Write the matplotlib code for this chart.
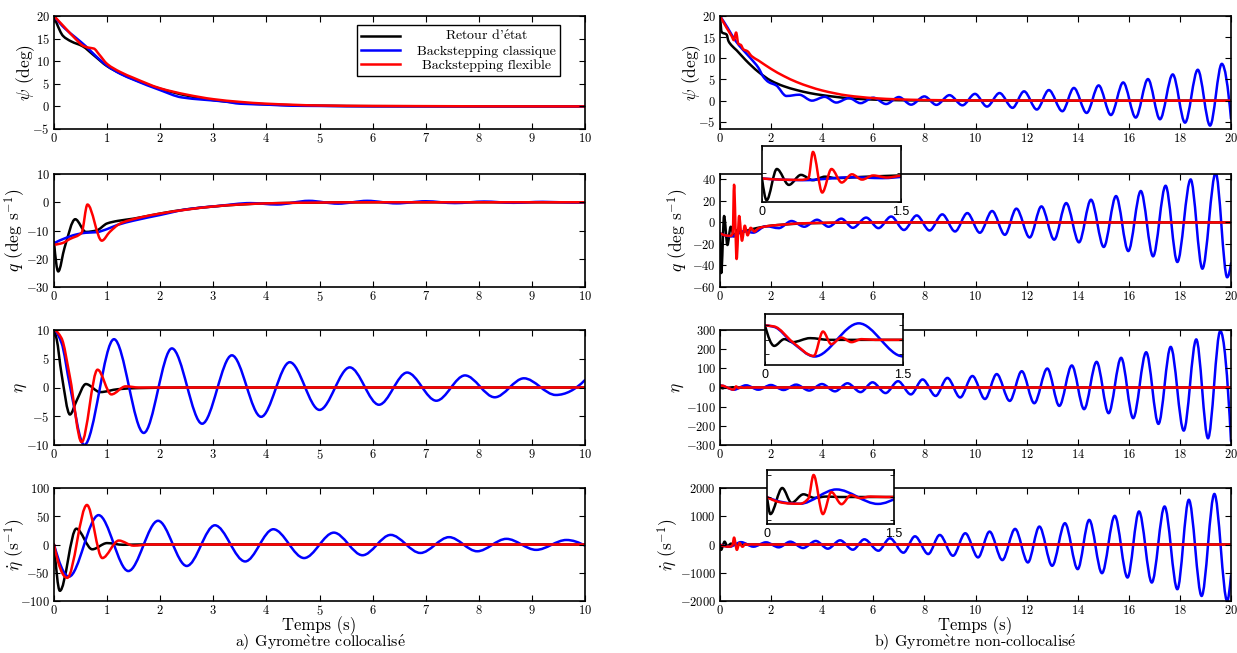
import numpy as np
import matplotlib
matplotlib.use("Agg")
import matplotlib.pyplot as plt
from matplotlib.path import Path
from matplotlib.patches import PathPatch
from matplotlib.lines import Line2D

plt.rcParams['font.family'] = ['cmr10', 'DejaVu Serif']
plt.rcParams['mathtext.fontset'] = 'cm'
plt.rcParams['axes.formatter.use_mathtext'] = True
plt.rcParams['axes.unicode_minus'] = True

# ---- data: (time [s], value) at extrema / key points ----
# a) collocated gyro, t in [0, 10]
psi_a_black = [(0, 20), (0.05, 18.4), (0.17, 15.6), (0.32, 14.4), (0.54, 13.3), (0.75, 11.3),
               (1.0, 8.9), (1.25, 7.3), (1.5, 6.0), (2.0, 3.9), (2.5, 2.4), (3.0, 1.4),
               (3.5, 0.8), (4.0, 0.45), (5.0, 0.15), (6.0, 0.05), (10, 0)]
psi_a_blue = [(0, 20), (0.2, 17.3), (0.4, 15.3), (0.6, 13.3), (0.8, 11.0), (1.0, 9.0),
              (1.25, 7.2), (1.5, 5.9), (2.0, 3.6), (2.4, 2.0), (2.8, 1.5), (3.2, 1.1),
              (3.5, 0.6), (4.0, 0.4), (4.5, 0.15), (5.0, 0.1), (6.0, 0.02), (10, 0)]
psi_a_red = [(0, 20), (0.2, 17.5), (0.4, 15.0), (0.55, 13.4), (0.65, 13.0), (0.75, 12.8),
             (0.85, 11.5), (1.0, 9.4), (1.25, 7.6), (1.5, 6.3), (2.0, 4.0), (2.5, 2.6),
             (3.0, 1.6), (3.5, 1.0), (4.0, 0.6), (5.0, 0.2), (6.0, 0.1), (10, 0)]

q_a_black = [(0, -14), (0.08, -24.5), (0.2, -16), (0.4, -6), (0.6, -10.5), (0.8, -10),
             (1.0, -7.5), (1.2, -6.6), (1.5, -5.8), (2.0, -4), (2.5, -2.5), (3.0, -1.5),
             (3.5, -0.8), (4.0, -0.4), (5.0, -0.1), (6.0, 0), (10, 0)]
q_a_blue = [(0, -14.5), (0.2, -12.8), (0.4, -11.5), (0.6, -10.8), (0.8, -10.6), (1.0, -9.5),
            (1.2, -8), (1.5, -6.5), (2.0, -4.5), (2.5, -2.5), (3.1, -1.3), (3.7, -0.3),
            (4.2, -0.8), (4.8, 0.5), (5.35, -0.5), (5.9, 0.5), (6.45, -0.4), (7.0, 0.35),
            (7.55, -0.3), (8.1, 0.25), (8.65, -0.2), (9.2, 0.15), (9.75, -0.1), (10, 0)]
q_a_red = [(0, -15), (0.15, -14.5), (0.3, -13), (0.52, -10.8), (0.63, -0.8), (0.9, -13.6),
           (1.05, -10.5), (1.25, -7.5), (1.6, -5.5), (2.0, -4), (2.5, -2.6), (3.0, -1.5),
           (3.5, -0.8), (4.0, -0.4), (5.0, -0.1), (6.0, 0), (10, 0)]

eta_a_black = [(0, 10), (0.05, 8.4), (0.14, 2.5), (0.3, -4.7), (0.43, -2.2), (0.6, 0.6),
               (0.87, -0.8), (1.2, -0.3), (1.6, -0.1), (2.5, 0), (10, 0)]
eta_a_blue = [(0, 10), (0.14, 7.8), (0.3, 0.3), (0.57, -10), (1.13, 8.4), (1.69, -7.9),
              (2.22, 6.8), (2.79, -6.3), (3.35, 5.6), (3.9, -5.1), (4.44, 4.4), (5.0, -3.9),
              (5.57, 3.5), (6.12, -3.0), (6.65, 2.6), (7.2, -2.3), (7.74, 2.1), (8.3, -1.7),
              (8.85, 1.6), (9.45, -1.3), (10, 1.3)]
eta_a_red = [(0, 10), (0.14, 8.6), (0.3, 1.8), (0.52, -9.5), (0.82, 3.1), (1.08, -1.2),
             (1.35, 0.2), (1.6, 0), (10, 0)]

etad_a_black = [(0, 0), (0.11, -82), (0.42, 28), (0.72, -8.5), (1.0, 2.5), (1.3, -0.5),
                (1.6, 0), (10, 0)]
etad_a_blue = [(0, 0), (0.28, -57), (0.84, 52), (1.4, -47), (1.96, 42), (2.5, -38),
               (3.03, 34), (3.6, -30), (4.13, 27), (4.71, -24), (5.27, 21), (5.81, -19),
               (6.34, 17), (6.9, -15), (7.44, 13), (7.97, -12), (8.52, 10), (9.08, -9.5),
               (9.65, 8), (10, -2)]
etad_a_red = [(0, 0), (0.25, -59), (0.62, 70), (0.91, -24), (1.22, 7), (1.5, -2),
              (1.8, 0), (10, 0)]

# b) non-collocated gyro, t in [0, 20]
psi_b_black = [(0, 20), (0.065, 16.2), (0.26, 15.6), (0.33, 14.1), (0.46, 13.0), (0.65, 11.9),
               (1.0, 9.6), (1.5, 6.8), (2.0, 4.7), (2.5, 3.4), (3.0, 2.5), (3.5, 1.8),
               (4.0, 1.3), (5.0, 0.6), (6.0, 0.25), (7.0, 0.1), (8.0, 0.05), (20, 0)]
psi_b_blue = [(0, 20), (0.3, 17.2), (0.6, 14.2), (0.9, 12.0), (1.2, 10.0), (1.5, 7.8),
              (1.7, 5.6), (1.9, 4.4), (2.2, 3.6), (2.6, 1.1), (3.1, 1.4), (3.6, 0.0),
              (4.1, 0.9), (4.55, -0.45), (5.05, 0.6), (5.5, -0.6), (6.0, 0.7), (6.5, -0.8),
              (7.0, 0.85), (7.48, -0.95), (8.0, 1.0), (8.47, -1.0), (8.98, 1.3), (9.49, -1.1),
              (9.98, 1.6), (10.45, -1.4), (10.94, 1.8), (11.45, -1.7), (11.9, 2.2),
              (12.4, -2.1), (12.87, 2.5), (13.4, -2.5), (13.85, 3.0), (14.35, -2.9),
              (14.82, 3.6), (15.3, -3.4), (15.78, 4.3), (16.27, -4.0), (16.75, 5.1),
              (17.22, -4.4), (17.72, 6.2), (18.2, -5.2), (18.7, 7.3), (19.18, -5.9),
              (19.64, 8.7), (20, -4.3)]
psi_b_red = [(0, 20), (0.26, 17.2), (0.46, 15.2), (0.54, 14.3), (0.63, 16.1), (0.72, 13.4),
             (0.81, 13.2), (0.92, 12.1), (1.07, 11.7), (1.24, 10.5), (1.5, 9.5), (2.0, 7.5),
             (2.5, 5.8), (3.0, 4.4), (3.5, 3.3), (4.0, 2.4), (5.0, 1.2), (6.0, 0.6),
             (7.0, 0.3), (8.0, 0.15), (10, 0.05), (20, 0)]

q_b_black = [(0, -10), (0.05, -47), (0.16, 6), (0.29, -21), (0.42, -4), (0.55, -13),
             (0.68, -7), (0.8, -9.5), (1.0, -8), (1.3, -6), (1.6, -4.5), (2.0, -3),
             (2.5, -2), (3.0, -1.2), (4.0, -0.5), (5.0, -0.2), (6.0, 0), (20, 0)]
q_b_blue = [(0, -10), (0.2, -12), (0.45, -13), (0.75, -10), (0.95, -8), (1.3, -9.5),
            (1.8, -3.5), (2.3, -5.3), (2.8, 1.3), (3.3, -4), (3.8, 2.5), (4.25, -4),
            (4.75, 3.5), (5.2, -5), (5.72, 4.5), (6.2, -5.3), (6.7, 5.5), (7.2, -7),
            (7.7, 6.5), (8.2, -7.5), (8.7, 7.5), (9.2, -8.4), (9.68, 8.7), (10.17, -9.6),
            (10.65, 10.6), (11.15, -11.5), (11.6, 12.8), (12.12, -14), (12.58, 14.9),
            (13.08, -16), (13.55, 18), (14.05, -18.5), (14.52, 21.1), (15.02, -22.8),
            (15.5, 24.5), (15.98, -26.6), (16.47, 29.2), (16.95, -31.5), (17.44, 34.1),
            (17.9, -36.8), (18.42, 40), (18.88, -43), (19.4, 46), (19.85, -51), (20, -38)]
q_b_red = [(0, -10), (0.2, -12), (0.42, -12.5), (0.5, -10), (0.55, 35), (0.65, -34),
           (0.75, 6), (0.86, -17), (0.97, -3), (1.08, -12), (1.2, -5), (1.35, -8.5),
           (1.5, -5.5), (2.0, -3), (2.5, -2), (3.0, -1), (4.0, -0.4), (5.0, 0), (20, 0)]

eta_b_black = [(0, 10), (0.1, -4.2), (0.21, 0.5), (0.3, -1.6), (0.49, 1.2), (0.7, 0), (20, 0)]
eta_b_blue = [(0, 10), (0.1, 9), (0.3, -2), (0.54, -11.6), (1.02, 11.5), (1.5, -11.5),
              (1.99, 13), (2.49, -13), (2.98, 15), (3.49, -16), (3.99, 18), (4.5, -20),
              (4.99, 22), (5.5, -24), (5.97, 27), (6.48, -29), (6.97, 33), (7.47, -36),
              (7.93, 42), (8.44, -44), (8.9, 50), (9.4, -52), (9.88, 60), (10.37, -60),
              (10.83, 70), (11.34, -70), (11.81, 85), (12.3, -82), (12.81, 99), (13.28, -96),
              (13.77, 115), (14.25, -113), (14.74, 134), (15.21, -134), (15.7, 155),
              (16.17, -160), (16.68, 184), (17.16, -190), (17.64, 212), (18.15, -225),
              (18.64, 251), (19.1, -265), (19.58, 295), (20, -280)]
eta_b_red = [(0, 10), (0.1, 9.3), (0.3, -1.5), (0.53, -11.2), (0.63, 5.8), (0.72, -3),
             (0.83, 1.6), (0.94, -1.6), (1.05, 0.5), (1.2, 0), (20, 0)]

etad_b_black = [(0, 0), (0.04, -190), (0.18, 100), (0.29, -65), (0.43, 30), (0.56, -10),
                (0.7, 5), (0.85, 0), (20, 0)]
etad_b_blue = [(0, 0), (0.39, -75), (0.82, 84), (1.31, -77), (1.8, 77), (2.3, -100),
               (2.75, 100), (3.25, -125), (3.75, 125), (4.22, -148), (4.7, 148),
               (5.2, -184), (5.65, 184), (6.2, -220), (6.65, 220), (7.18, -290), (7.63, 290),
               (8.15, -338), (8.6, 338), (9.12, -398), (9.6, 398), (10.1, -457),
               (10.55, 457), (11.05, -552), (11.55, 552), (12.05, -635), (12.5, 635),
               (13.0, -754), (13.5, 754), (14.0, -872), (14.45, 872), (14.95, -1015),
               (15.45, 1015), (15.95, -1170), (16.4, 1170), (16.9, -1347), (17.4, 1347),
               (17.9, -1584), (18.35, 1584), (18.85, -1822), (19.35, 1790), (19.85, -2000),
               (20, -1100)]
etad_b_red = [(0, 0), (0.39, -75), (0.49, -15), (0.55, 245), (0.66, -190), (0.76, 55),
              (0.88, -80), (0.99, 20), (1.1, -12), (1.22, 5), (1.4, 0), (20, 0)]

legend_labels = [r"Retour d'$\mathrm{\acute{e}}$tat", "Backstepping classique",
                 "Backstepping flexible"]
colors = ['black', 'blue', 'red']
ylabels = [r'$\psi$ (deg)', r'$q$ (deg s$^{-1}$)', r'$\eta$', r'$\dot{\eta}$ (s$^{-1}$)']
captions = [r'a) Gyrom$\mathrm{\grave{e}}$tre collocalis$\mathrm{\acute{e}}$',
            r'b) Gyrom$\mathrm{\grave{e}}$tre non-collocalis$\mathrm{\acute{e}}$']


def smooth_path(points):
    # shape preserving cubic (pchip tangents) handed to matplotlib as Bezier segments
    t = np.array([p[0] for p in points], float)
    v = np.array([p[1] for p in points], float)
    h = np.diff(t)
    d = np.diff(v) / h
    n = len(t)
    m = np.zeros(n)
    for i in range(1, n - 1):
        if d[i - 1] * d[i] > 0:
            w1 = 2 * h[i] + h[i - 1]
            w2 = h[i] + 2 * h[i - 1]
            m[i] = (w1 + w2) / (w1 / d[i - 1] + w2 / d[i])

    def edge(h0, h1, d0, d1):
        e = ((2 * h0 + h1) * d0 - h0 * d1) / (h0 + h1)
        if np.sign(e) != np.sign(d0):
            return 0.0
        if np.sign(d0) != np.sign(d1) and abs(e) > abs(3 * d0):
            return 3 * d0
        return e

    if n > 2:
        m[0] = edge(h[0], h[1], d[0], d[1])
        m[-1] = edge(h[-1], h[-2], d[-1], d[-2])
    else:
        m[:] = d[0]
    verts = [(t[0], v[0])]
    codes = [Path.MOVETO]
    for i in range(n - 1):
        verts += [(t[i] + h[i] / 3, v[i] + m[i] * h[i] / 3),
                  (t[i + 1] - h[i] / 3, v[i + 1] - m[i + 1] * h[i] / 3),
                  (t[i + 1], v[i + 1])]
        codes += [Path.CURVE4] * 3
    return Path(verts, codes)


def draw(ax, series, lw=1.8):
    for pts, c in zip(series, colors):
        ax.add_patch(PathPatch(smooth_path(pts), fill=False, edgecolor=c, lw=lw,
                               capstyle='round', joinstyle='round'))


def style(ax):
    ax.tick_params(direction='in', top=True, right=True, length=4, width=0.8,
                   labelsize=9, pad=3)
    ax.tick_params(axis='x', pad=2)
    for s in ax.spines.values():
        s.set_linewidth(1.2)


W, H = 1237, 653
fig = plt.figure(figsize=(W / 100, H / 100), dpi=100)

rows = [(16, 129), (174, 287), (330, 445), (488, 601)]
cols = [(54, 585), (720, 1231)]
# x pixel of the right edge of each rotated y label
label_edges = [[37, 27, 29, 27], [703, 690, 686, 680]]

data_a = [(psi_a_black, psi_a_blue, psi_a_red), (q_a_black, q_a_blue, q_a_red),
          (eta_a_black, eta_a_blue, eta_a_red), (etad_a_black, etad_a_blue, etad_a_red)]
data_b = [(psi_b_black, psi_b_blue, psi_b_red), (q_b_black, q_b_blue, q_b_red),
          (eta_b_black, eta_b_blue, eta_b_red), (etad_b_black, etad_b_blue, etad_b_red)]

ylims_a = [(-5, 20), (-30, 10), (-10, 10), (-100, 100)]
yticks_a = [np.arange(-5, 21, 5), np.arange(-30, 11, 10), np.arange(-10, 11, 5),
            np.arange(-100, 101, 50)]
ylims_b = [(-6.7, 20), (-60, 45), (-300, 300), (-2000, 2000)]
yticks_b = [np.arange(-5, 21, 5), np.arange(-60, 41, 20), np.arange(-300, 301, 100),
            np.arange(-2000, 2001, 1000)]

leg = None
for ci, (data, ylims, yticks, tmax, xstep) in enumerate(
        [(data_a, ylims_a, yticks_a, 10, 1), (data_b, ylims_b, yticks_b, 20, 2)]):
    x0, x1 = cols[ci]
    for ri, (top, bot) in enumerate(rows):
        ax = fig.add_axes([x0 / W, 1 - bot / H, (x1 - x0) / W, (bot - top) / H])
        draw(ax, data[ri])
        ax.set_xlim(0, tmax)
        ax.set_ylim(*ylims[ri])
        ax.set_xticks(np.arange(0, tmax + 0.1, xstep))
        ax.set_yticks(yticks[ri])
        ax.set_ylabel(ylabels[ri], fontsize=12.5)
        ax.yaxis.set_label_coords((label_edges[ci][ri] - x0) / (x1 - x0), 0.5)
        style(ax)
        if ri == 3:
            ax.set_xlabel('Temps (s)', fontsize=12)
            ax.xaxis.set_label_coords(0.5, (bot - 616.5) / (bot - top))
        if ci == 0 and ri == 0:
            handles = [Line2D([], [], color=c, lw=1.8) for c in colors]
            leg = ax.legend(handles, legend_labels, loc='upper right',
                            bbox_to_anchor=(0.953, 0.92), borderaxespad=0,
                            fontsize=10, fancybox=False, framealpha=1,
                            edgecolor='black', handlelength=2.8, labelspacing=0.1,
                            borderpad=0.3, handletextpad=1.2)
            leg.get_frame().set_linewidth(1.0)

# zoomed insets over the first 1.5 s of the non-collocated case
insets = [(1, (762, 901, 146, 202), (-50, 45)),
          (2, (765, 903, 314, 365), (-17.5, 18)),
          (3, (767, 894, 470, 524), (-300, 300))]
for ri, (ix0, ix1, itop, ibot), ylim in insets:
    axi = fig.add_axes([ix0 / W, 1 - ibot / H, (ix1 - ix0) / W, (ibot - itop) / H], zorder=5)
    draw(axi, data_b[ri])
    axi.set_xlim(0, 1.5)
    axi.set_ylim(*ylim)
    axi.set_xticks([0, 1.5])
    axi.set_xticklabels(['0', '1.5'], fontfamily='Liberation Sans', fontsize=9)
    axi.tick_params(direction='in', top=True, right=True, length=3, width=0.6,
                    labelleft=False, pad=3)
    for s in axi.spines.values():
        s.set_linewidth(1.2)

fig.text(320 / W, 1 - 652.5 / H, captions[0], ha='center', va='bottom', fontsize=11.5)
fig.text(975 / W, 1 - 652.5 / H, captions[1], ha='center', va='bottom', fontsize=11.5)

# centre the legend entries in the text column, as in the original
fig.canvas.draw()
renderer = fig.canvas.get_renderer()
widths = [t.get_window_extent(renderer).width for t in leg.get_texts()]
for t, w in zip(leg.get_texts(), widths):
    t.set_position(((max(widths) - w) / 2, 0))

fig.savefig('out.png', dpi=100)
